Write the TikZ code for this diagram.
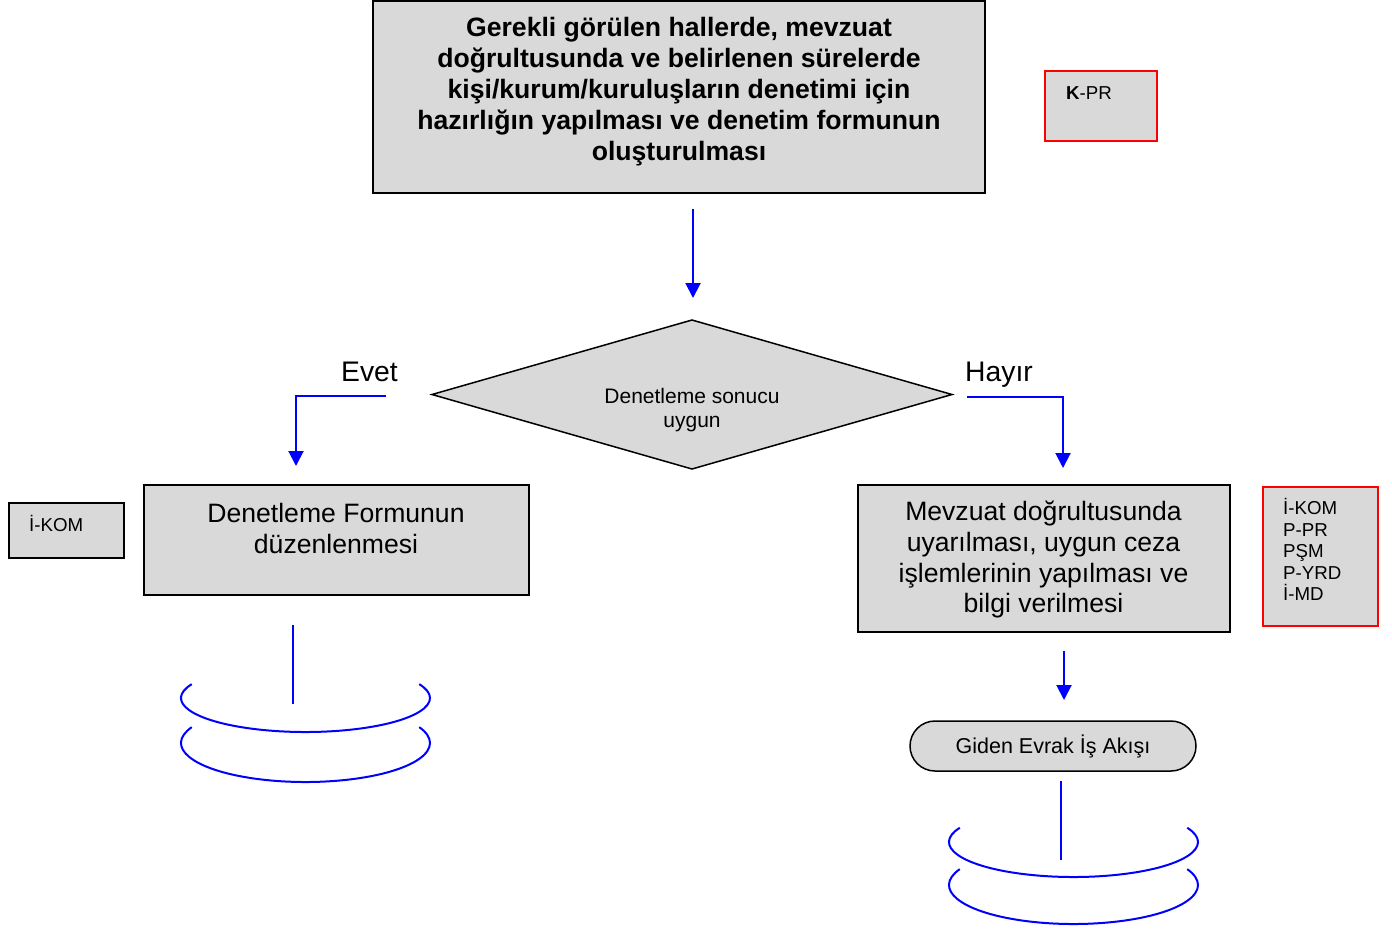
\documentclass[tikz,border=0pt]{standalone}
\usepackage{fontspec}
\setmainfont{Liberation Sans}
\usetikzlibrary{arrows.meta,shapes.geometric}
\definecolor{boxgray}{HTML}{D9D9D9}
\begin{document}
\begin{tikzpicture}[x=1pt,y=-1pt,
  box/.style={draw=black, line width=1.5pt, fill=boxgray, inner sep=0pt, outer sep=0pt},
  redbox/.style={box, draw=red},
  flow/.style={draw=blue, line width=2pt, -{Triangle[length=15pt,width=15pt]}},
  bline/.style={draw=blue, line width=2pt},
  bigb/.style={font=\fontsize{26.6}{31}\selectfont\bfseries, align=center, inner sep=0pt},
  big/.style={font=\fontsize{26.6}{31}\selectfont, align=center, inner sep=0pt},
  mid/.style={font=\fontsize{21}{24}\selectfont, align=center, inner sep=0pt},
  small/.style={font=\fontsize{18.7}{21.5}\selectfont, align=left, inner sep=0pt},
  lbl/.style={font=\fontsize{28.3}{31}\selectfont, anchor=base, inner sep=0pt},
  ]
\useasboundingbox (0,0) rectangle (1392,930);

% top box
\node[box, minimum width=612pt, minimum height=192pt] (top) at (679,97) {};
\node[bigb] (toptext) at (679,91.5) {Gerekli görülen hallerde, mevzuat\\doğrultusunda ve belirlenen sürelerde\\kişi/kurum/kuruluşların denetimi için\\hazırlığın yapılması ve denetim formunun\\oluşturulması};

% K-PR
\node[redbox, minimum width=112pt, minimum height=70pt] (kpr) at (1101,106) {};
\node[small, anchor=base west] (kprtext) at (1066,99.7) {\textbf{K}-PR};

% decision
\node[box, diamond, minimum width=520pt, minimum height=149pt] (dec) at (692,394.5) {};
\node[mid] (dectext) at (692,410) {Denetleme sonucu\\uygun};

% left box
\node[box, minimum width=385pt, minimum height=110pt] (left) at (336.5,540) {};
\node[font=\fontsize{26.6}{31.5}\selectfont, align=center, inner sep=0pt] (lefttext) at (336,528.5) {Denetleme Formunun\\düzenlenmesi};

\node[box, minimum width=115pt, minimum height=55pt] (ikom) at (66.5,530.5) {};
\node[small, anchor=base west] (ikomtext) at (29,531) {İ-KOM};

% right box
\node[box, minimum width=372pt, minimum height=147pt] (right) at (1044,558.5) {};
\node[font=\fontsize{26.6}{30.7}\selectfont, align=center, inner sep=0pt] (righttext) at (1043.5,559.7) {Mevzuat doğrultusunda\\uyarılması, uygun ceza\\işlemlerinin yapılması ve\\bilgi verilmesi};

\node[redbox, minimum width=115pt, minimum height=139pt] (resp) at (1320.5,556.5) {};
\node[small, anchor=west] (resptext) at (1283,549.8) {İ-KOM\\P-PR\\PŞM\\P-YRD\\İ-MD};

% pill
\node[box, rounded corners=25pt, minimum width=286pt, minimum height=50pt, font=\fontsize{21.5}{24}\selectfont] (giden) at (1053,746) {Giden Evrak İş Akışı};

% labels
\node[lbl] (evet) at (369.5,381.7) {Evet};
\node[lbl] (hayir) at (999,381.7) {Hayır};

% connectors
\coordinate (a1s) at (693,209); \coordinate (a1e) at (693,298);
\draw[flow] (a1s) -- (a1e);
\coordinate (es) at (386,396); \coordinate (ee) at (296,466);
\draw[flow] (es) -| (ee);
\coordinate (hs) at (967,397); \coordinate (he) at (1063,468);
\draw[flow] (hs) -| (he);
\coordinate (rs) at (1064,651); \coordinate (re) at (1064,700);
\draw[flow] (rs) -- (re);
\coordinate (ls) at (293,625); \coordinate (le) at (293,704);
\draw[bline] (ls) -- (le);
\coordinate (gs) at (1061,781); \coordinate (ge) at (1061,860);
\draw[bline] (gs) -- (ge);

% end symbols
\coordinate (lc1) at (305.5,698); \coordinate (lc2) at (305.5,743);
\draw[bline] (lc1) ++(156:124.5pt and 34pt) arc[start angle=156, end angle=384, x radius=124.5pt, y radius=34pt];
\draw[bline] (lc2) ++(156:124.5pt and 39pt) arc[start angle=156, end angle=384, x radius=124.5pt, y radius=39pt];
\coordinate (rc1) at (1073.5,842); \coordinate (rc2) at (1073.5,885);
\draw[bline] (rc1) ++(156:124.5pt and 35pt) arc[start angle=156, end angle=384, x radius=124.5pt, y radius=35pt];
\draw[bline] (rc2) ++(156:124.5pt and 39pt) arc[start angle=156, end angle=384, x radius=124.5pt, y radius=39pt];
\end{tikzpicture}
\end{document}
